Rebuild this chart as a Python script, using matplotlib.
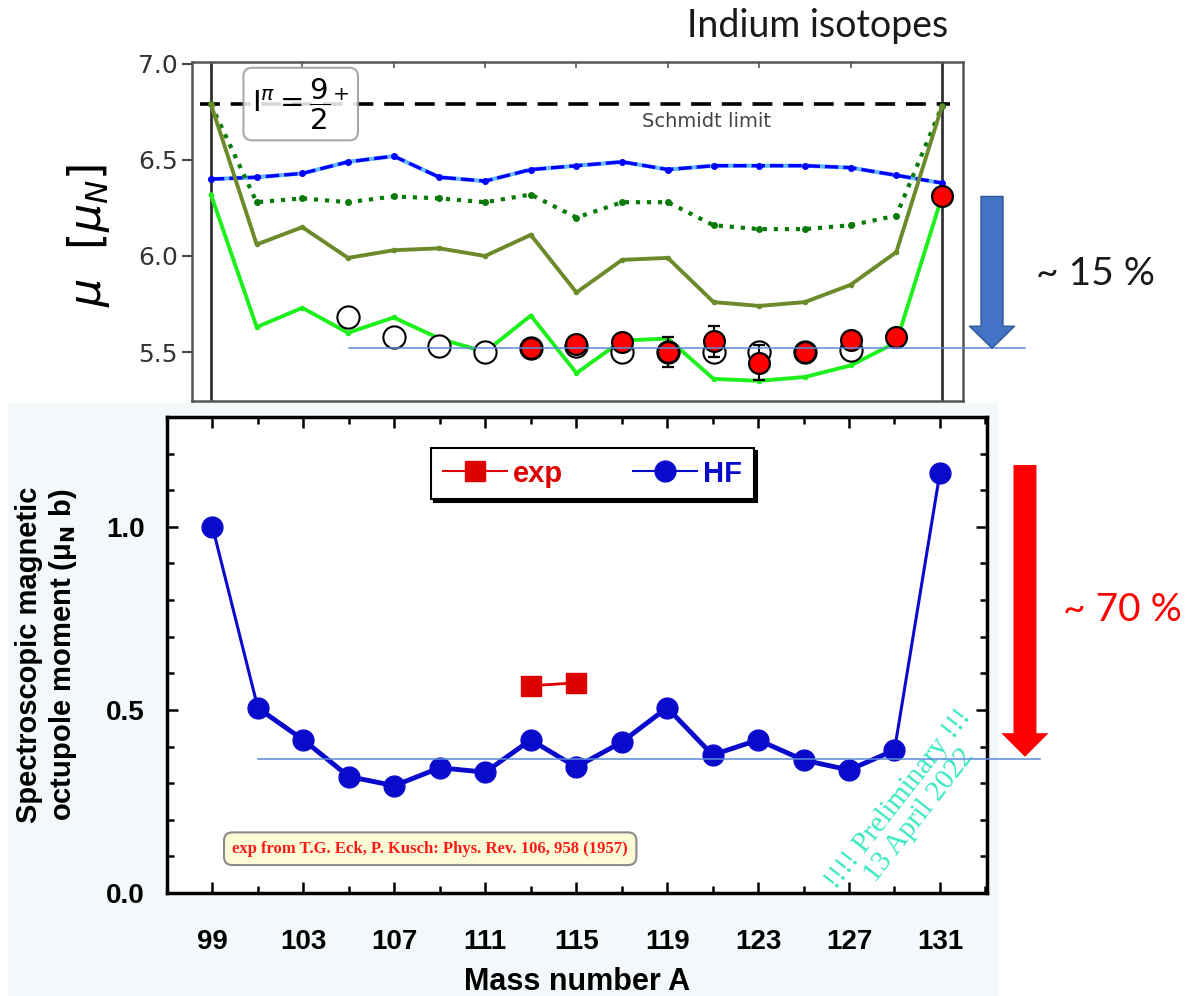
import matplotlib
matplotlib.use("Agg")
import matplotlib.pyplot as plt
from matplotlib.patches import FancyArrowPatch, Rectangle
from matplotlib.lines import Line2D
from matplotlib.ticker import MultipleLocator

# ---- upper panel: magnetic dipole moments of the 9/2+ states ----
mass_top = [99, 101, 103, 105, 107, 109, 111, 113, 115, 117, 119, 121, 123, 125, 127, 129, 131]
mu_blue = [6.40, 6.41, 6.43, 6.49, 6.52, 6.41, 6.39, 6.45, 6.47, 6.49, 6.45, 6.47, 6.47, 6.47, 6.46, 6.42, 6.38]
mu_green_dot = [6.79, 6.28, 6.30, 6.28, 6.31, 6.30, 6.28, 6.32, 6.20, 6.28, 6.28, 6.16, 6.14, 6.14, 6.16, 6.21, 6.78]
mu_olive = [6.79, 6.06, 6.15, 5.99, 6.03, 6.04, 6.00, 6.11, 5.81, 5.98, 5.99, 5.76, 5.74, 5.76, 5.85, 6.02, 6.78]
mu_lime = [6.32, 5.63, 5.73, 5.60, 5.68, 5.57, 5.50, 5.69, 5.39, 5.56, 5.57, 5.36, 5.35, 5.37, 5.43, 5.55, 6.31]

mass_old = [105, 107, 109, 111, 113, 115, 117, 119, 121, 123, 125, 127]
mu_old = [5.68, 5.58, 5.53, 5.50, 5.52, 5.53, 5.50, 5.50, 5.50, 5.50, 5.50, 5.51]

mass_new = [113, 115, 117, 119, 121, 123, 125, 127, 129, 131]
mu_new = [5.52, 5.54, 5.55, 5.50, 5.555, 5.445, 5.50, 5.56, 5.58, 6.31]
mu_new_err = [0.02, 0.02, 0.02, 0.08, 0.08, 0.09, 0.02, 0.02, 0.02, 0.02]

schmidt_limit = 6.79
mu_level = 5.52
mu_ticks = [5.5, 6.0, 6.5, 7.0]

# ---- lower panel: magnetic octupole moments ----
mass_hf = [99, 101, 103, 105, 107, 109, 111, 113, 115, 117, 119, 121, 123, 125, 127, 129, 131]
omega_hf = [1.00, 0.505, 0.418, 0.318, 0.293, 0.342, 0.330, 0.418, 0.344, 0.412, 0.506, 0.377, 0.418, 0.363, 0.336, 0.390, 1.148]
mass_exp = [113, 115]
omega_exp = [0.566, 0.574]
omega_level = 0.366
mass_ticks = [99, 103, 107, 111, 115, 119, 123, 127, 131]

hf_col = '#0a0acc'
exp_col = '#dd0000'
sans_b = {'family': 'Liberation Sans', 'weight': 'bold'}

W, H = 1194, 996
fig = plt.figure(figsize=(W / 100, H / 100), dpi=100)
fig.add_artist(Rectangle((8 / W, 0), 990 / W, 1 - 403 / H, transform=fig.transFigure,
                         facecolor='#f3f8fb', edgecolor='none', zorder=-1))

# ================= upper panel =================
ax1 = fig.add_axes([192 / W, 1 - 401 / H, 771 / W, 339 / H])
ax1.set_xlim(98.17, 131.92)
ax1.set_ylim(5.245, 7.01)

ax1.axvline(mass_top[0], color='#333333', lw=2, zorder=2)
ax1.axvline(mass_top[-1], color='#333333', lw=2, zorder=2)
ax1.axhline(schmidt_limit, xmin=0.01, xmax=0.983, color='black', lw=2.6,
            linestyle=(0, (5.5, 3)), zorder=2)
ax1.text(120.7, 6.70, 'Schmidt limit', ha='center', va='center', fontsize=14, color='#444444')

ax1.plot(mass_top, mu_blue, color='#66bbff', lw=3, zorder=3)
ax1.plot(mass_top, mu_blue, color='#0000ff', lw=2.4, linestyle=(0, (4, 1.5)),
         marker='o', ms=4, zorder=3)
ax1.plot(mass_top, mu_green_dot, color='#0a7a0a', lw=3, linestyle=':', marker='o', ms=4, zorder=3)
ax1.plot(mass_top, mu_olive, color='#6b8a2a', lw=2.8, marker='o', ms=3, zorder=3)
ax1.plot(mass_top, mu_lime, color='#1ef01e', lw=2.8, marker='o', ms=3, zorder=3)

ax1.plot(mass_old, mu_old, 'o', ms=16, mfc='white', mec='black', mew=1.5, zorder=4)
ax1.errorbar(mass_new, mu_new, yerr=mu_new_err, fmt='o', ms=15, mfc='#ff0000', mec='black',
             mew=1.6, ecolor='black', elinewidth=1.5, capsize=4.5, capthick=1.5, zorder=5)

ax1.plot([105.04, 134.64], [mu_level, mu_level], color='#5b8ad6', lw=1.1, clip_on=False, zorder=6)
ax1.add_patch(FancyArrowPatch((133.19, mu_new[-1]), (133.19, mu_level),
                              arrowstyle='simple,head_length=15.8,head_width=32.4,tail_width=15.8',
                              mutation_scale=1, shrinkA=0, shrinkB=0, facecolor='#4472c4',
                              edgecolor='#2f5597', lw=1, clip_on=False, zorder=6))

ax1.text(0.141, 0.876, r'$\mathrm{I}^{\pi} = \dfrac{9}{2}^{+}$', transform=ax1.transAxes,
         ha='center', va='center', fontsize=21,
         bbox=dict(boxstyle='round,pad=0.3', facecolor='white', alpha=0.85,
                   edgecolor='#999999', lw=1.5), zorder=7)

ax1.set_xticks(mass_ticks)
ax1.set_yticks(mu_ticks)
ax1.set_yticklabels([f'{v:.1f}' for v in mu_ticks])
ax1.tick_params(axis='x', top=True, bottom=False, labelbottom=False, direction='in',
                length=4, width=1.2, color='#555555')
ax1.tick_params(axis='y', direction='out', length=7, width=1.5, labelsize=18,
                labelcolor='#333333', color='#444444', pad=3)
for s in ax1.spines.values():
    s.set_color('#555555')
    s.set_linewidth(1.8)

fig.text(88 / W, 1 - 235 / H, r'$\mu\ \ [\mu_N]$', rotation=90, fontsize=32,
         ha='center', va='center')

# ================= lower panel =================
ax2 = fig.add_axes([167 / W, 1 - 893 / H, 820 / W, 476 / H])
ax2.set_xlim(97, 133.07)
ax2.set_ylim(0, 1.3)

ax2.plot(mass_hf[1:-1], omega_hf[1:-1], color=hf_col, lw=3.5, zorder=3)
ax2.plot(mass_hf[:2], omega_hf[:2], color=hf_col, lw=2.2, zorder=3)
ax2.plot(mass_hf[-2:], omega_hf[-2:], color=hf_col, lw=2.2, zorder=3)
ax2.plot(mass_hf, omega_hf, 'o', color=hf_col, ms=15, zorder=4)
ax2.plot(mass_exp, omega_exp, color=exp_col, lw=2, marker='s', ms=15, zorder=4)

ax2.plot([101.02, 135.4], [omega_level, omega_level], color='#5b8ad6', lw=1.1,
         clip_on=False, zorder=6)
ax2.add_patch(FancyArrowPatch((134.74, 1.169), (134.74, omega_level + 0.006),
                              arrowstyle='simple,head_length=17,head_width=34,tail_width=16.5',
                              mutation_scale=1, shrinkA=0, shrinkB=0, facecolor='#ff0000',
                              edgecolor='none', clip_on=False, zorder=6))

h_exp = Line2D([], [], color=exp_col, marker='s', ms=15, lw=1.5)
h_hf = Line2D([], [], color=hf_col, marker='o', ms=15, lw=1.5)
leg = ax2.legend([h_exp, h_hf], ['exp', 'HF'], ncol=2, loc='upper center',
                 bbox_to_anchor=(0.519, 0.935), borderaxespad=0, prop={**sans_b, 'size': 21},
                 frameon=True, fancybox=False, shadow={'color': 'black', 'alpha': 1},
                 edgecolor='black', framealpha=1, handlelength=2.2, columnspacing=2.4,
                 handletextpad=0.2, borderpad=0.4)
leg.get_frame().set_linewidth(1.5)
for t, c in zip(leg.get_texts(), [exp_col, hf_col]):
    t.set_color(c)

ax2.text(0.321, 0.093, 'exp from T.G. Eck, P. Kusch: Phys. Rev. 106, 958 (1957)',
         transform=ax2.transAxes, ha='center', va='center', fontsize=12, fontweight='bold',
         family='Liberation Serif', color='#ff1a1a',
         bbox=dict(boxstyle='round,pad=0.5,rounding_size=0.5', facecolor='#fdfcd6',
                   edgecolor='#8a8a8a', lw=1.5))

ax2.text(0.905, 0.18, '!!!! Preliminary !!!\n13 April 2022', transform=ax2.transAxes,
         rotation=52, rotation_mode='anchor', ha='center', va='center',
         multialignment='center', fontsize=21, family='Liberation Serif',
         color='#3ae8c2', linespacing=1.05)

ax2.xaxis.set_major_locator(MultipleLocator(4, offset=3))
ax2.xaxis.set_minor_locator(MultipleLocator(2, offset=1))
ax2.yaxis.set_major_locator(MultipleLocator(0.5))
ax2.yaxis.set_minor_locator(MultipleLocator(0.1))
ax2.tick_params(which='both', direction='in', top=True, right=True, width=1.8)
ax2.tick_params(which='major', length=8)
ax2.tick_params(which='minor', length=5)
ax2.tick_params(axis='x', pad=26, labelsize=20)
ax2.tick_params(axis='y', pad=16, labelsize=20)
ax2.yaxis.set_major_formatter(lambda v, p: f'{v:.1f}')
for lab in ax2.get_xticklabels() + ax2.get_yticklabels():
    lab.set_fontfamily('Liberation Sans')
    lab.set_fontweight('bold')
for s in ax2.spines.values():
    s.set_linewidth(2.5)

ax2.set_xlabel('Mass number A', fontdict={**sans_b, 'size': 22})
ax2.xaxis.set_label_coords(0.5, -0.155)
fig.text(47 / W, 1 - 655 / H, 'Spectroscopic magnetic\noctupole moment (μ$_\\mathbf{N}$ b)',
         rotation=90, ha='center', va='center', multialignment='center',
         fontsize=21, linespacing=1.2, **sans_b)

# ================= annotations =================
fig.text(818 / W, 1 - 37 / H, 'Indium isotopes', ha='center', va='baseline',
         fontsize=27, family='Lato', color='#1a1a1a')
fig.text(1096 / W, 1 - 274 / H, '~ 15 %', ha='center', va='center',
         fontsize=28, family='Lato', color='#1a1a1a')
fig.text(1122 / W, 1 - 610 / H, '~ 70 %', ha='center', va='center',
         fontsize=28, family='Lato', color='#ff0000')

fig.savefig('out.png', dpi=100)
